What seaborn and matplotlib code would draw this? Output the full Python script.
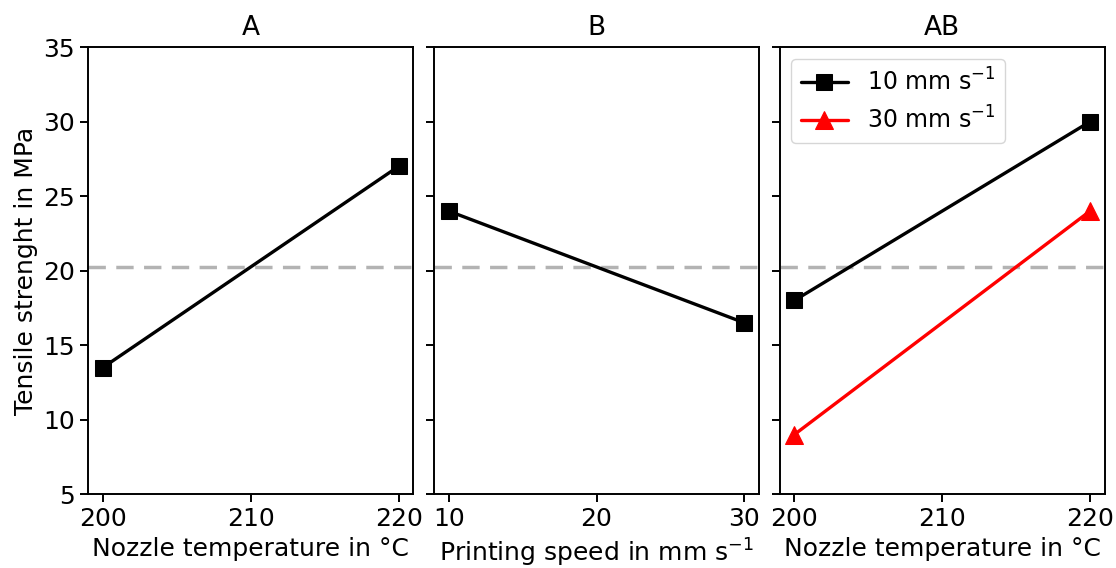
import matplotlib
matplotlib.use("Agg")
import matplotlib.pyplot as plt
import seaborn as sns
import pandas as pd

sns.set_style("ticks")
plt.rcParams['font.family'] = ['DejaVu Sans']
plt.rcParams['mathtext.fontset'] = 'dejavusans'
for k in ['text.color', 'axes.labelcolor', 'xtick.color', 'ytick.color']:
    plt.rcParams[k] = 'black'

temps = [200, 220]
speeds = [10, 30]
strength_A = [13.5, 27.0]
strength_B = [24.0, 16.5]
strength_AB_10 = [18.0, 30.0]
strength_AB_30 = [9.0, 24.0]
legend_labels = ["10 mm s$^{-1}$", "30 mm s$^{-1}$"]
grand_mean = (sum(strength_A) + sum(strength_B)) / 4

fs = 18
fig, axes = plt.subplots(1, 3, figsize=(11.16, 5.68), dpi=100, sharey=True)
fig.subplots_adjust(left=0.079, right=0.99, bottom=0.13, top=0.917, wspace=0.063)

lw = 2.4
ms = 11.5

dfA = pd.DataFrame({"x": temps, "y": strength_A})
sns.lineplot(data=dfA, x="x", y="y", ax=axes[0], color="black", marker="s",
             markersize=ms, linewidth=lw, markeredgecolor="black")
dfB = pd.DataFrame({"x": speeds, "y": strength_B})
sns.lineplot(data=dfB, x="x", y="y", ax=axes[1], color="black", marker="s",
             markersize=ms, linewidth=lw, markeredgecolor="black")
df10 = pd.DataFrame({"x": temps, "y": strength_AB_10})
df30 = pd.DataFrame({"x": temps, "y": strength_AB_30})
sns.lineplot(data=df10, x="x", y="y", ax=axes[2], color="black", marker="s",
             markersize=ms, linewidth=lw, markeredgecolor="black", label=legend_labels[0])
sns.lineplot(data=df30, x="x", y="y", ax=axes[2], color="red", marker="^",
             markersize=ms + 1, linewidth=lw, markeredgecolor="red", label=legend_labels[1])

titles = ["A", "B", "AB"]
xlabels = ["Nozzle temperature in °C", "Printing speed in mm s$^{-1}$", "Nozzle temperature in °C"]
xticks = [[200, 210, 220], [10, 20, 30], [200, 210, 220]]
for ax, t, xl, xt in zip(axes, titles, xlabels, xticks):
    ax.axhline(grand_mean, color="#b3b3b3", linestyle="--", linewidth=2.5, dashes=(5, 3), zorder=0)
    ax.set_title(t, fontsize=fs + 1, pad=9)
    ax.set_xlabel(xl, fontsize=fs, labelpad=4)
    ax.set_ylabel("")
    ax.set_xticks(xt)
    ax.tick_params(labelsize=fs, width=1.4, length=6)
    for s in ax.spines.values():
        s.set_visible(True)
        s.set_linewidth(1.4)
        s.set_color("black")
axes[0].set_ylim(5, 35)
axes[0].set_yticks([5, 10, 15, 20, 25, 30, 35])
axes[0].set_ylabel("Tensile strenght in MPa", fontsize=fs)
axes[2].legend(loc="upper left", fontsize=17, frameon=True, handlelength=2.0,
               borderaxespad=0.5, labelspacing=0.45)

fig.savefig("out.png", dpi=100)
